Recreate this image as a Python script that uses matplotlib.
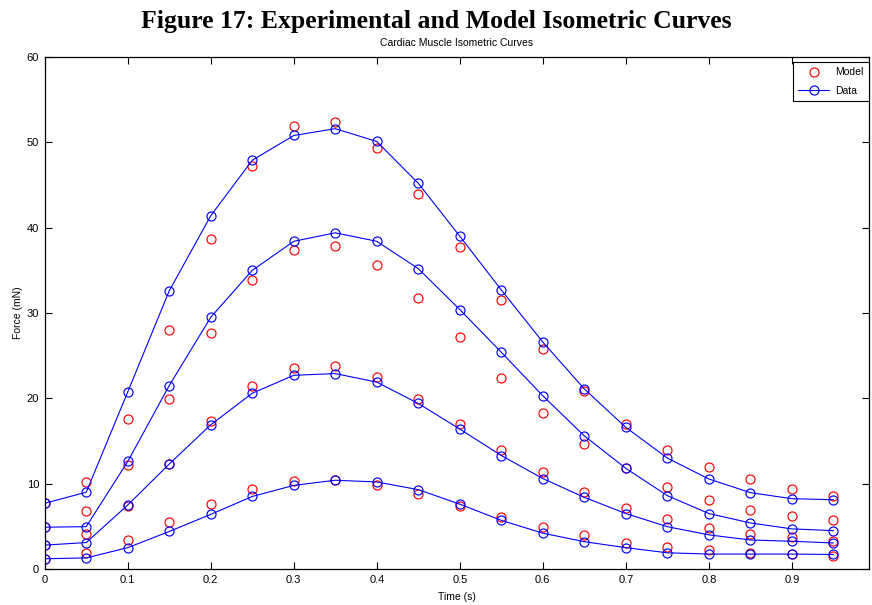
import matplotlib
matplotlib.use("Agg")
import matplotlib.pyplot as plt
import numpy as np

# time points (s)
time = np.arange(20) * 0.05

# experimental data, four curves (mN)
data_a = [7.7, 9.0, 20.75, 32.6, 41.4, 47.9, 50.8, 51.6, 50.1, 45.2,
          39.0, 32.7, 26.6, 21.1, 16.6, 13.0, 10.55, 8.95, 8.24, 8.12]
data_b = [4.9, 4.96, 12.6, 21.5, 29.5, 35.0, 38.4, 39.4, 38.4, 35.2,
          30.4, 25.4, 20.3, 15.6, 11.8, 8.6, 6.5, 5.4, 4.7, 4.5]
data_c = [2.8, 3.1, 7.5, 12.3, 16.9, 20.6, 22.7, 22.9, 21.9, 19.4,
          16.4, 13.3, 10.6, 8.4, 6.5, 4.96, 4.0, 3.4, 3.25, 3.05]
data_d = [1.2, 1.3, 2.5, 4.4, 6.4, 8.5, 9.8, 10.4, 10.2, 9.3,
          7.6, 5.7, 4.2, 3.2, 2.5, 1.9, 1.75, 1.75, 1.75, 1.7]

# model output, same four curves
model_a = [7.7, 10.2, 17.6, 28.0, 38.7, 47.2, 51.9, 52.4, 49.3, 44.0,
           37.7, 31.5, 25.8, 20.9, 17.0, 14.0, 11.9, 10.5, 9.4, 8.6]
model_b = [4.9, 6.8, 12.2, 19.9, 27.7, 33.9, 37.4, 37.9, 35.6, 31.7,
           27.2, 22.4, 18.3, 14.65, 11.8, 9.65, 8.1, 6.95, 6.2, 5.7]
model_c = [2.8, 4.1, 7.4, 12.3, 17.4, 21.4, 23.6, 23.8, 22.5, 19.9,
           17.0, 14.0, 11.4, 9.0, 7.2, 5.9, 4.85, 4.1, 3.7, 3.3]
model_d = [1.2, 1.85, 3.4, 5.5, 7.6, 9.4, 10.35, 10.4, 9.8, 8.75,
           7.35, 6.1, 4.9, 4.0, 3.1, 2.6, 2.2, 1.9, 1.75, 1.5]

plt.rcParams['font.family'] = ['Liberation Sans', 'DejaVu Sans']

fig = plt.figure(figsize=(8.72, 6.05), dpi=100)
ax = fig.add_axes([0.0513, 0.0595, 0.9453, 0.8463])

fig.text(0.5, 0.964, "Figure 17: Experimental and Model Isometric Curves",
         ha='center', va='center', fontsize=18.5, fontweight='bold',
         family=['Liberation Serif', 'DejaVu Serif'])
ax.set_title("Cardiac Muscle Isometric Curves", fontsize=7.5, pad=8)

mk = dict(marker='o', markersize=6.5, markerfacecolor='none', markeredgewidth=0.85)
for i, m in enumerate([model_a, model_b, model_c, model_d]):
    ax.plot(time, m, linestyle='none', color='#ff0000',
            label='Model' if i == 0 else None, **mk)
for i, d in enumerate([data_a, data_b, data_c, data_d]):
    ax.plot(time, d, color='#0000ff', linewidth=0.8,
            label='Data' if i == 0 else None, **mk)

ax.set_xlim(0, 0.993)
ax.set_ylim(0, 60)
ax.set_xticks(np.arange(0, 1.0, 0.1))
ax.set_xticklabels(['0', '0.1', '0.2', '0.3', '0.4', '0.5', '0.6', '0.7', '0.8', '0.9'])
ax.set_yticks(np.arange(0, 61, 10))
ax.tick_params(direction='in', top=True, right=True, labelsize=8,
               length=5, width=0.8, pad=4)
for s in ax.spines.values():
    s.set_linewidth(0.9)

ax.set_xlabel("Time (s)", fontsize=7.5, labelpad=5)
ax.set_ylabel("Force (mN)", fontsize=7.5, labelpad=3)

leg = ax.legend(loc='upper right', bbox_to_anchor=(1.0, 0.99), fontsize=7.5,
                fancybox=False, edgecolor='black', framealpha=1,
                borderaxespad=0, handlelength=3.0, borderpad=0.5,
                labelspacing=0.8, handletextpad=0.6)
leg.get_frame().set_linewidth(0.8)

fig.savefig("out.png", dpi=100)
